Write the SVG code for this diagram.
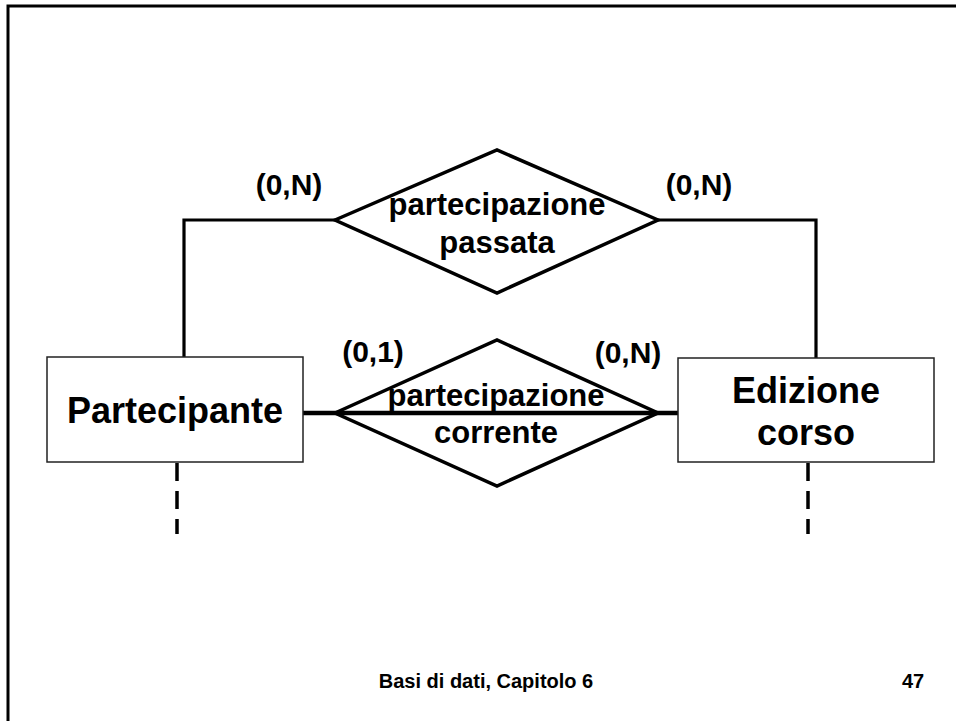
<svg xmlns="http://www.w3.org/2000/svg" width="956" height="721" viewBox="0 0 956 721">
<style>
.bg{fill:#ffffff}
.frame{fill:none;stroke:#000;stroke-width:3}
.ent{fill:#ffffff;stroke:#222;stroke-width:1.5}
.rel{fill:none;stroke:#000;stroke-width:3.5;stroke-linejoin:miter}
.ln{fill:none;stroke:#000;stroke-width:3.2}
.thick{fill:none;stroke:#000;stroke-width:4.3}
.dash{fill:none;stroke:#000;stroke-width:3.5;stroke-dasharray:18 10}
text{font-family:"Liberation Sans",Arial,sans-serif;font-weight:bold;fill:#000;text-anchor:middle}
.et{font-size:36px}
.rt{font-size:31px}
.ct{font-size:30px}
.ft{font-size:20px}
</style>
<rect class="bg" x="0" y="0" width="956" height="721"/>
<path class="frame" d="M8,721 V6 H956"/>
<g id="connectors">
<path class="ln" d="M184,357 V220 H335"/>
<path class="ln" d="M658,220 H816 V358"/>
<path class="thick" d="M303,413 H678"/>
<path class="dash" d="M177,463 V534"/>
<path class="dash" d="M808,463 V534"/>
</g>
<g id="partecipazione-passata">
<polygon class="rel" points="335,220 497,150 658,220 497,293"/>
<text class="rt" x="497" y="215">partecipazione</text>
<text class="rt" x="497" y="253">passata</text>
</g>
<g id="partecipazione-corrente">
<polygon class="rel" points="335,413 497,340 658,413 497,486"/>
<text class="rt" x="496" y="406">partecipazione</text>
<text class="rt" x="496" y="443">corrente</text>
</g>
<g id="partecipante">
<rect class="ent" x="47" y="357" width="256" height="105"/>
<text class="et" x="175" y="423">Partecipante</text>
</g>
<g id="edizione-corso">
<rect class="ent" x="678" y="358" width="256" height="104"/>
<text class="et" x="806" y="403">Edizione</text>
<text class="et" x="806" y="445">corso</text>
</g>
<g id="cardinalities">
<text class="ct" x="289" y="195">(0,N)</text>
<text class="ct" x="699" y="195">(0,N)</text>
<text class="ct" x="373" y="362">(0,1)</text>
<text class="ct" x="628" y="363">(0,N)</text>
</g>
<g id="footer">
<text class="ft" x="486" y="688">Basi di dati, Capitolo 6</text>
<text class="ft" x="913" y="688">47</text>
</g>
</svg>
